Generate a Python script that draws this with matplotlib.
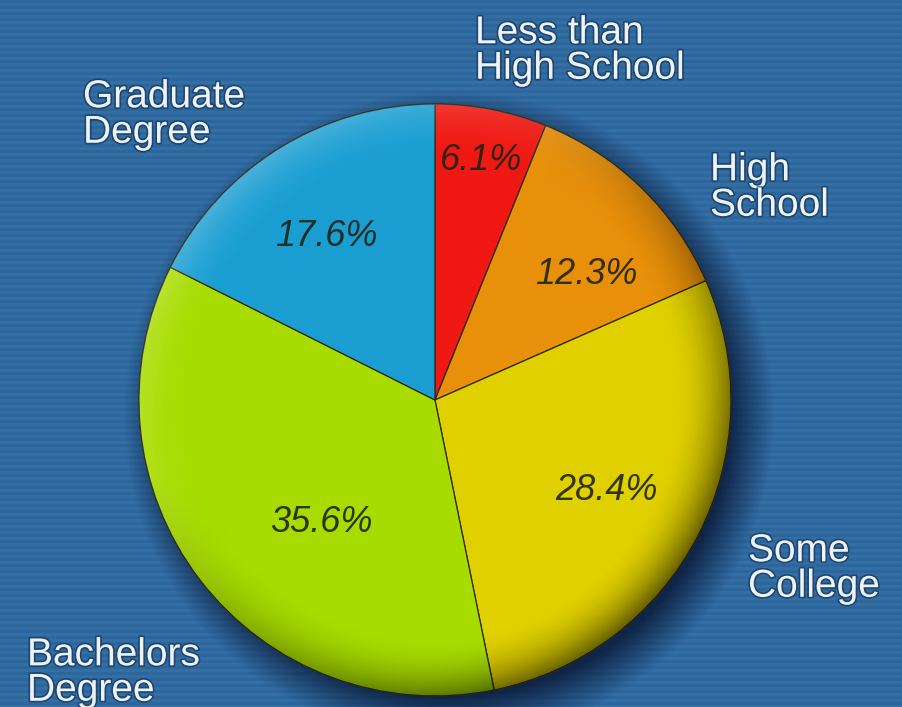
import matplotlib.pyplot as plt
import matplotlib.patheffects as pe
from matplotlib.patches import Circle
import numpy as np

# education levels, clockwise from the top
labels = ['Less than\nHigh School', 'High\nSchool', 'Some\nCollege', 'Bachelors\nDegree', 'Graduate\nDegree']
shares = [6.1, 12.3, 28.4, 35.6, 17.6]
pct_text = ['6.1%', '12.3%', '28.4%', '35.6%', '17.6%']
colors = ['#f01812', '#e8900a', '#e0d000', '#a8dc00', '#1a9ed2']

W, H = 902, 707
cx, cy, r = 435, 400, 296          # pie centre/radius in pixels (y from top)

# where the texts sit (pixels, y from top)
name_pos = [(475, 51), (710, 188), (748, 569), (27, 673), (83, 115)]
pct_pos = [(481, 160), (586, 275), (606, 490), (321, 522), (326, 237)]

fig = plt.figure(figsize=(W / 100, H / 100), dpi=100)
ax = fig.add_axes([0, 0, 1, 1])

yy, xx = np.mgrid[0:H, 0:W] + 0.5

# blue striped background
base = np.array([0.19, 0.42, 0.63])
stripes = 0.03 * (((yy.astype(int) // 3) % 2) - 0.5)
bg = np.clip(base[None, None, :] + stripes[..., None], 0, 1)
# soft shadow under the pie, offset to bottom right
d_sh = np.hypot(xx - (cx + 14), yy - (cy + 16))
sh = 0.85 * np.clip((r + 30 - d_sh) / 45, 0, 1)
shadow_col = np.array([0.04, 0.10, 0.22])
bg = bg * (1 - sh[..., None]) + shadow_col * sh[..., None]
ax.imshow(bg, extent=(0, W, 0, H), origin='upper', zorder=0, interpolation='bilinear')

wedges, _ = ax.pie(shares, colors=colors, startangle=90, counterclock=False,
                   center=(cx, H - cy), radius=r,
                   wedgeprops=dict(edgecolor='#2b2a10', linewidth=0.9))
for w in wedges:
    w.set_zorder(1)

# bevel shading on the rim: light top-left, dark bottom-right
d = np.hypot(xx - cx, yy - cy)
rim = np.clip((d / r - 0.80) / 0.20, 0, 1) ** 2
dirf = ((xx - cx) + (yy - cy)) / (np.maximum(d, 1) * np.sqrt(2))
dark = rim * np.clip(0.25 + 0.5 * dirf, 0, 1)
light = rim * np.clip(-0.35 * dirf, 0, 1)
shade = np.zeros((H, W, 4))
shade[..., :3] = (light / np.maximum(light + dark, 1e-6))[..., None]
shade[..., 3] = np.clip(dark * 0.75 + light * 0.6, 0, 1)
im = ax.imshow(shade, extent=(0, W, 0, H), origin='upper', zorder=2, interpolation='bilinear')
im.set_clip_path(Circle((cx, H - cy), r, transform=ax.transData))

halo = [pe.withStroke(linewidth=2.5, foreground='#14304f', alpha=0.6)]
for lab, (x, y) in zip(labels, name_pos):
    ax.text(x, H - y, lab, ha='left', va='center', fontsize=28, color='#eef3fb',
            family='Liberation Sans', linespacing=0.98, zorder=4, path_effects=halo)

for t, (x, y) in zip(pct_text, pct_pos):
    ax.text(x, H - y, t, ha='center', va='center', fontsize=26, style='italic',
            color='#1e2414', alpha=0.9, family='Liberation Sans', zorder=4)

ax.set_xlim(0, W)
ax.set_ylim(0, H)
ax.set_aspect('equal')
ax.axis('off')

fig.savefig('out.png', dpi=100)
